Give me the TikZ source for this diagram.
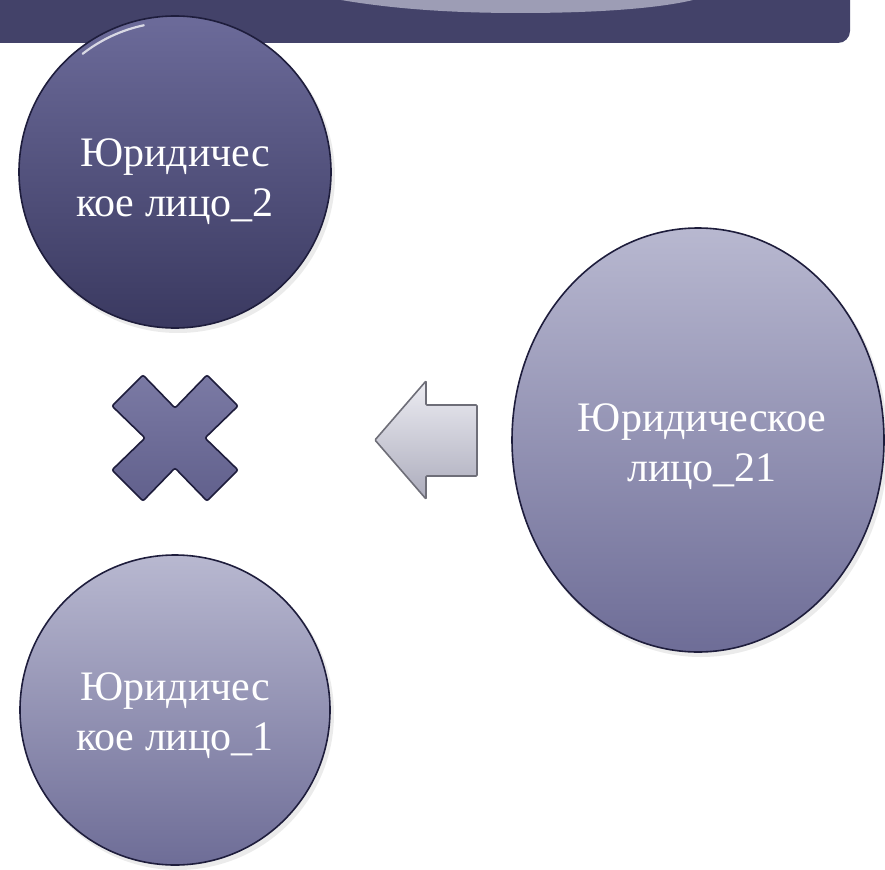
\documentclass[tikz,border=0pt]{standalone}
\usepackage{fontspec}
\setmainfont{Liberation Serif}
\usetikzlibrary{shapes.geometric}
\definecolor{banner}{HTML}{434269}
\definecolor{bannerlight}{HTML}{9D9DB5}
\definecolor{darktop}{HTML}{6C6B9A}
\definecolor{darkbot}{HTML}{3A3960}
\definecolor{lighttop}{HTML}{B8B8D0}
\definecolor{lightbot}{HTML}{6E6D97}
\definecolor{edge}{HTML}{1E1D3C}
\definecolor{crossfill}{HTML}{6C6B9C}
\definecolor{arrtop}{HTML}{ECECF2}
\definecolor{arrbot}{HTML}{ACACBC}
\definecolor{arredge}{HTML}{6E6E78}
\tikzset{
  circ/.style={circle, draw=edge, line width=1.6pt, inner sep=0pt},
  ell/.style={ellipse, draw=edge, line width=1.6pt, inner sep=0pt},
  txt/.style={text=white, align=center, inner sep=0pt, font=\fontsize{42}{50}\selectfont},
  shad/.style={fill=black, opacity=0.08},
}
\begin{document}
\begin{tikzpicture}[x=1pt,y=-1pt]
\useasboundingbox (0,0) rectangle (885,869);
% banner
\fill[banner] (0,0) -- (850,0) -- (850,31) arc[start angle=0,end angle=90,radius=12] -- (0,43) -- cycle;
\fill[bannerlight] (341,0) .. controls (400,10) and (460,13) .. (520,13) .. controls (600,13) and (660,8) .. (693,0) -- cycle;
% faint shadows
\fill[shad] (178,176) circle[radius=157];
\fill[shad] (178,714) circle[radius=156];
\fill[shad] (701,444) ellipse[x radius=187, y radius=213];
% top-left dark circle
\node[circ, minimum size=312pt, top color=darktop, bottom color=darkbot] (le2) at (175,172) {};
\draw[white, opacity=0.75, line width=2.2pt, line cap=round] (le2.center) ++(232:150) arc[start angle=232,end angle=258,radius=150];
\node[txt] (le2t) at ([yshift=-10pt]le2.center) {Юридичес\\кое лицо\_2};
% bottom-left light circle
\node[circ, minimum size=310pt, top color=lighttop, bottom color=lightbot] (le1) at (175,710) {};
\node[txt] (le1t) at ([yshift=-6pt]le1.center) {Юридичес\\кое лицо\_1};
% right ellipse
\node[ell, minimum width=372pt, minimum height=424pt, top color=lighttop, bottom color=lightbot] (le21) at (698,440) {};
\node[txt] (le21t) at ([yshift=-7pt,xshift=4pt]le21.center) {Юридическое\\лицо\_21};
% cross
\coordinate (xc) at (175,438);
\draw[edge, line width=1.6pt, top color=darktop!90!white, bottom color=crossfill!90!black, rounded corners=2pt, shift={(xc)}]
  (0,-30) -- (32,-63) -- (63,-32) -- (30,0) -- (63,32) -- (32,63) -- (0,30)
  -- (-32,63) -- (-63,32) -- (-30,0) -- (-63,-32) -- (-32,-63) -- cycle;
% arrow
\draw[arredge, line width=1.6pt, top color=arrtop, bottom color=arrbot, rounded corners=1pt]
  (375,440) -- (426,381) -- (426,405) -- (477,405) -- (477,476) -- (426,476) -- (426,499) -- cycle;
\end{tikzpicture}
\end{document}
